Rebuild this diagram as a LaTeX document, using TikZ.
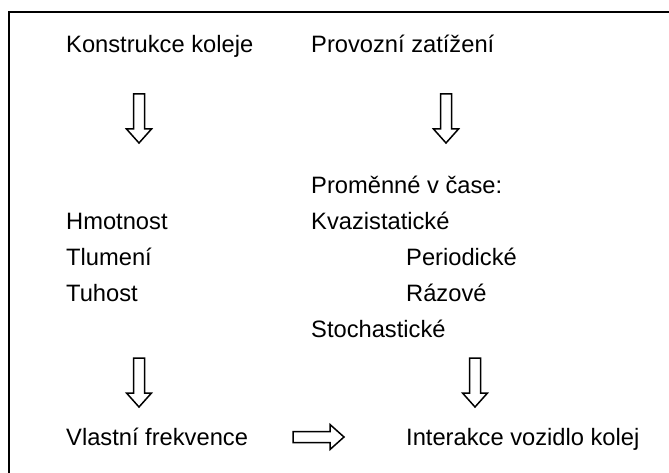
\documentclass[tikz,border=0pt]{standalone}
\usepackage{fontspec}
\setmainfont{Liberation Sans}
\begin{document}
\begin{tikzpicture}[x=1bp,y=-1bp,
  lbl/.style={anchor=base west, inner sep=0pt, font=\fontsize{23.7bp}{28bp}\selectfont},
  blockarrow/.style={draw=black, line width=1.5bp, fill=white, line join=miter},
  downarr/.pic={\draw[blockarrow] (-5.5,0) -- (5.5,0) -- (5.5,35) -- (12.5,35) -- (0,49) -- (-12.5,35) -- (-5.5,35) -- cycle;},
  rightarr/.pic={\draw[blockarrow] (0,-5.5) -- (37,-5.5) -- (37,-12.5) -- (51,0) -- (37,12.5) -- (37,5.5) -- (0,5.5) -- cycle;}
]
\useasboundingbox (0,0) rectangle (669,473);
\clip (0,0) rectangle (669,473);
% frame
\draw[line width=2bp] (8.5,490) |- (690,12.5);
% texts
\node[lbl] (konst) at (66,53) {Konstrukce koleje};
\node[lbl] (provoz) at (311,53) {Provozní zatížení};
\node[lbl] (promen) at (311,194) {Proměnné v čase:};
\node[lbl] (hmot) at (66,230) {Hmotnost};
\node[lbl] (kvazi) at (311,230) {Kvazistatické};
\node[lbl] (tlum) at (66,266) {Tlumení};
\node[lbl] (period) at (406,266) {Periodické};
\node[lbl] (tuh) at (66,302) {Tuhost};
\node[lbl] (raz) at (406,302) {Rázové};
\node[lbl] (stoch) at (311,337) {Stochastické};
\node[lbl] (vlast) at (66,445) {Vlastní frekvence};
\node[lbl] (inter) at (406,445) {Interakce vozidlo kolej};
% block arrows
\pic at (139,94) {downarr};
\pic at (446,94) {downarr};
\pic at (139,358) {downarr};
\pic at (475,358) {downarr};
\pic at (293,437) {rightarr};
\end{tikzpicture}
\end{document}
